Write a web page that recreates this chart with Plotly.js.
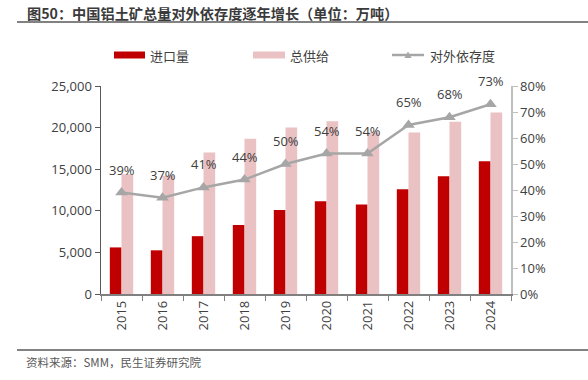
<!DOCTYPE html>
<html>
<head>
<meta charset="utf-8">
<script src="https://cdn.plot.ly/plotly-3.0.1.min.js"></script>
<style>html,body{margin:0;padding:0;background:#fff;}#chart{width:588px;height:380px;}</style>
</head>
<body>
<div id="chart"></div>
<script>
var years = ['2015','2016','2017','2018','2019','2020','2021','2022','2023','2024'];
var importVol = [5600, 5250, 6950, 8300, 10100, 11150, 10750, 12600, 14150, 15950];
var totalSupply = [14400, 14200, 17000, 18650, 20000, 20750, 19400, 19400, 20700, 21800];
var dependence = [0.39, 0.37, 0.41, 0.44, 0.50, 0.54, 0.54, 0.65, 0.68, 0.73];
var depLabels = ['39%','37%','41%','44%','50%','54%','54%','65%','68%','73%'];
var seriesNames = ['进口量', '总供给', '对外依存度'];
var titleText = '图50：中国铝土矿总量对外依存度逐年增长（单位：万吨）';
var sourceText = '资料来源：SMM，民生证券研究院';

var FONT = '"Open Sans", "Noto Sans CJK SC", sans-serif';
var CJK = '"Noto Sans CJK SC", "Open Sans", sans-serif';
var L = 101, R = 511, T = 86, B = 294;
var W = R - L, H = B - T;
function px(x){ return (x - L) / W; }
function py(y){ return (B - y) / H; }

var traces = [
  {type:'bar', name:seriesNames[0], x:years, y:importVol, marker:{color:'#C00000'}, yaxis:'y', showlegend:false, hoverinfo:'skip'},
  {type:'bar', name:seriesNames[1], x:years, y:totalSupply, marker:{color:'#EAC2C3'}, yaxis:'y', showlegend:false, hoverinfo:'skip'},
  {type:'scatter', mode:'lines+markers', name:seriesNames[2], x:years, y:dependence, yaxis:'y2',
   line:{color:'#A6A6A6', width:2.5}, marker:{symbol:'triangle-up', size:11, color:'#A6A6A6'}, showlegend:false, hoverinfo:'skip'}
];

var annotations = years.map(function(yr, i){
  return {x: i, y: dependence[i], xref:'x', yref:'y2', text: depLabels[i], showarrow:false,
          yshift: 23, font:{family:FONT, size:13, color:'#404040'}};
});
annotations.push({xref:'paper', yref:'paper', x:px(25), y:py(13), xanchor:'left', yanchor:'middle', text:'<b>'+titleText+'</b>', showarrow:false,
  font:{family:CJK, size:14.2, color:'#3A3A3A'}});
annotations.push({xref:'paper', yref:'paper', x:px(24), y:py(362), xanchor:'left', yanchor:'middle', text:sourceText, showarrow:false,
  font:{family:CJK, size:11.5, color:'#595959'}});
annotations.push({xref:'paper', yref:'paper', x:px(148), y:py(55), xanchor:'left', yanchor:'middle', text:seriesNames[0], showarrow:false, font:{family:CJK, size:13, color:'#404040'}});
annotations.push({xref:'paper', yref:'paper', x:px(288), y:py(55), xanchor:'left', yanchor:'middle', text:seriesNames[1], showarrow:false, font:{family:CJK, size:13, color:'#404040'}});
annotations.push({xref:'paper', yref:'paper', x:px(428), y:py(55), xanchor:'left', yanchor:'middle', text:seriesNames[2], showarrow:false, font:{family:CJK, size:13, color:'#404040'}});

var shapes = [
  {type:'line', xref:'paper', yref:'paper', x0:px(17), x1:px(588), y0:py(22), y1:py(22), line:{color:'#595959', width:1.5}},
  {type:'line', xref:'paper', yref:'paper', x0:px(17), x1:px(588), y0:py(350), y1:py(350), line:{color:'#595959', width:1.5}},
  {type:'rect', xref:'paper', yref:'paper', x0:px(114), x1:px(145), y0:py(58.5), y1:py(51.5), fillcolor:'#C00000', line:{width:0}},
  {type:'rect', xref:'paper', yref:'paper', x0:px(253), x1:px(285), y0:py(58.5), y1:py(51.5), fillcolor:'#EAC2C3', line:{width:0}},
  {type:'line', xref:'paper', yref:'paper', x0:px(392), x1:px(424), y0:py(55), y1:py(55), line:{color:'#A6A6A6', width:2.5}},
  {type:'path', xref:'paper', yref:'paper',
   path:'M '+px(404.5)+' '+py(58)+' L '+px(411.5)+' '+py(58)+' L '+px(408)+' '+py(51.5)+' Z', fillcolor:'#A6A6A6', line:{width:0}}
];

var layout = {
  width:588, height:380,
  margin:{l:L, r:588-R, t:T, b:380-B, pad:0},
  paper_bgcolor:'#fff', plot_bgcolor:'#fff',
  barmode:'group', bargap:0.43, bargroupgap:0,
  showlegend:false,
  font:{family:FONT, size:13, color:'#404040'},
  xaxis:{type:'category', range:[-0.5, years.length-0.5], autorange:false, tickangle:-90, showline:true, linecolor:'#808080', linewidth:1.5,
         ticks:'outside', tickson:'boundaries', ticklen:5, tickcolor:'#808080', showgrid:false,
         tickfont:{family:FONT, size:13, color:'#404040'}},
  yaxis:{range:[0,25000], dtick:5000, tickformat:',d', showline:true, linecolor:'#595959', linewidth:1.5,
         ticks:'outside', ticklen:5, tickcolor:'#595959', showgrid:false, zeroline:false,
         tickfont:{family:FONT, size:13, color:'#404040'}},
  yaxis2:{range:[0,0.8], dtick:0.1, tickformat:'.0%', overlaying:'y', side:'right', showline:true,
          linecolor:'#BFBFBF', linewidth:1.5, ticks:'outside', ticklen:5, tickcolor:'#BFBFBF', showgrid:false, zeroline:false,
          tickfont:{family:FONT, size:13, color:'#404040'}},
  annotations:annotations,
  shapes:shapes
};

Plotly.newPlot('chart', traces, layout, {staticPlot:true, displayModeBar:false});
</script>
</body>
</html>
